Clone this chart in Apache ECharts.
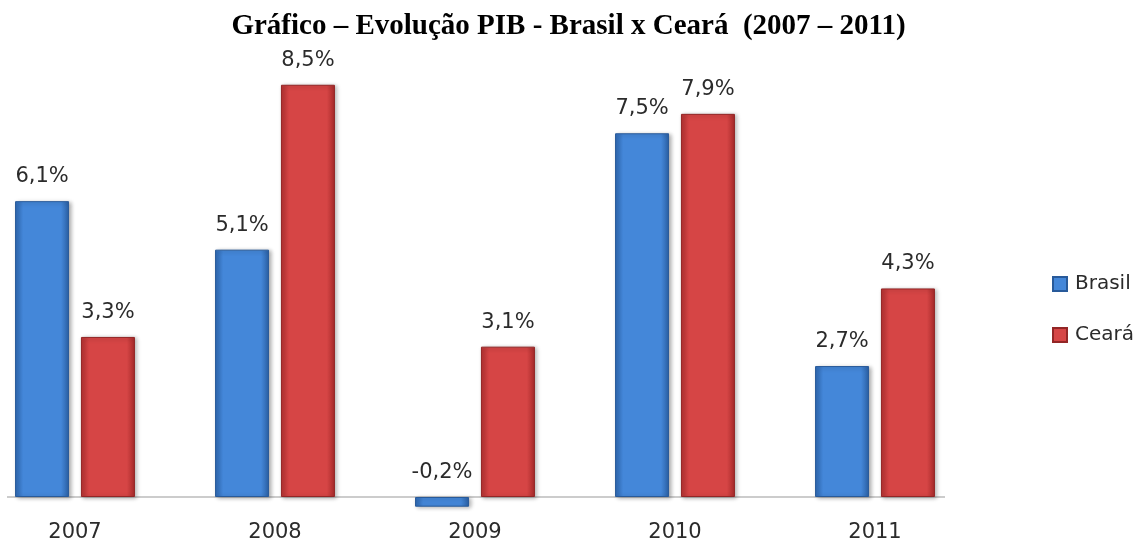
<!DOCTYPE html>
<html>
<head>
<meta charset="utf-8">
<script src="https://cdn.jsdelivr.net/npm/echarts@6/dist/echarts.min.js"></script>
<style>
  html, body { margin: 0; padding: 0; background: #fff; }
  #chart { width: 1137px; height: 543px; }
</style>
</head>
<body>
<div id="chart"></div>
<script>
const years = ['2007', '2008', '2009', '2010', '2011']
const brasil = [6.1, 5.1, -0.2, 7.5, 2.7]
const ceara = [3.3, 8.5, 3.1, 7.9, 4.3]

const chart = echarts.init(document.getElementById('chart'))

const fmt = p => String(p.value).replace('.', ',') + '%'

// gradiente lateral pra imitar o bisel do excel
const blueFill = new echarts.graphic.LinearGradient(0, 0, 1, 0, [
  { offset: 0, color: '#2f69b3' },
  { offset: 0.15, color: '#4487d9' },
  { offset: 0.85, color: '#4487d9' },
  { offset: 1, color: '#2a5fa3' }
])
const redFill = new echarts.graphic.LinearGradient(0, 0, 1, 0, [
  { offset: 0, color: '#b53232' },
  { offset: 0.15, color: '#d64545' },
  { offset: 0.85, color: '#d64545' },
  { offset: 1, color: '#a52a2a' }
])

const labelStyle = {
  show: true,
  position: 'top',
  distance: 14,
  formatter: fmt,
  fontFamily: 'DejaVu Sans',
  fontSize: 21,
  lineHeight: 21,
  color: '#2b2b2b'
}

let option = {
  title: {
    text: 'Gráfico – Evolução PIB - Brasil x Ceará  (2007 – 2011)',
    left: 'center',
    top: 7,
    textStyle: {
      fontFamily: 'Liberation Serif',
      fontWeight: 'bold',
      fontSize: 29,
      color: '#000'
    }
  },
  legend: {
    orient: 'vertical',
    left: 1047,
    top: 269,
    itemWidth: 14,
    itemHeight: 14,
    itemGap: 31,
    icon: 'rect',
    textStyle: {
      fontFamily: 'DejaVu Sans',
      fontSize: 20,
      lineHeight: 20,
      color: '#2b2b2b',
      padding: [0, 0, 0, 3]
    },
    data: ['Brasil', 'Ceará']
  },
  grid: {
    left: -25,
    right: 162,
    top: 60.5,
    bottom: 21.75,
    outerBoundsMode: 'none'
  },
  xAxis: {
    type: 'category',
    data: years,
    // eixo fica no fundo do grid, a linha do zero é desenhada à parte
    axisLine: { show: false, onZero: false },
    axisTick: { show: false },
    axisLabel: {
      margin: 1,
      fontFamily: 'DejaVu Sans',
      fontSize: 21,
      lineHeight: 21,
      color: '#2b2b2b'
    }
  },
  yAxis: {
    type: 'value',
    min: -0.5,
    max: 9,
    show: false,
    splitLine: { show: false }
  },
  series: [
    {
      name: 'Brasil',
      type: 'bar',
      data: brasil,
      barWidth: 54,
      barGap: '22%',
      itemStyle: {
        color: blueFill,
        borderColor: '#285a9a',
        borderWidth: 1,
        shadowColor: 'rgba(0,0,0,0.3)',
        shadowBlur: 4,
        shadowOffsetX: 2,
        shadowOffsetY: 1
      },
      label: labelStyle
    },
    {
      name: 'Ceará',
      type: 'bar',
      data: ceara,
      barWidth: 54,
      itemStyle: {
        color: redFill,
        borderColor: '#932626',
        borderWidth: 1,
        shadowColor: 'rgba(0,0,0,0.3)',
        shadowBlur: 4,
        shadowOffsetX: 2,
        shadowOffsetY: 1
      },
      label: labelStyle
    }
  ]
}
chart.setOption(option)

// linha do eixo só entre 7 e 945, como no original
const zeroY = chart.convertToPixel({ yAxisIndex: 0 }, 0)
chart.setOption({
  graphic: [{
    type: 'line',
    z: 0,
    shape: { x1: 7, y1: zeroY, x2: 945, y2: zeroY },
    style: { stroke: '#999', lineWidth: 1 }
  }]
})
</script>
</body>
</html>
